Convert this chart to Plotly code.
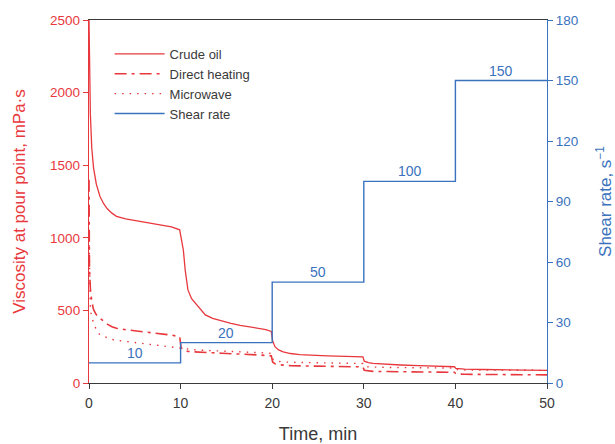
import plotly.graph_objects as go

# ---- data ----
time_min = [0, 0.05, 0.15, 0.3, 0.5, 0.8, 1.2, 1.6, 2, 2.5, 3, 4, 5, 6, 7, 8, 9, 9.9,
            10.05, 10.3, 10.5, 10.8, 11.2, 11.6, 12.2, 12.7, 13.5, 14.5, 15.5, 16.5, 17.5, 18.5, 19.3, 19.9,
            20.05, 20.3, 20.7, 21.2, 22, 23, 24, 26, 28, 29.9,
            30.05, 30.5, 31, 32, 34, 36, 38, 39.9,
            40.05, 40.5, 41, 43, 45, 47, 50]

crude_oil = [2500, 2150, 1850, 1620, 1480, 1370, 1285, 1235, 1200, 1170, 1148, 1130, 1120, 1110, 1100, 1088, 1075, 1055,
             1010, 916, 779, 641, 580, 549, 500, 469, 445, 425, 410, 397, 387, 378, 368, 355,
             290, 250, 228, 215, 203, 196, 192, 187, 183, 180,
             150, 140, 135, 130, 124, 119, 115, 112,
             100, 97, 95, 93, 91, 89, 87]

direct_heating = [1400, 800, 650, 560, 505, 470, 446, 425, 405, 388, 377, 367, 360, 352, 345, 338, 330, 319,
                  245, 228, 222, 218, 215, 213, 211, 210, 208, 205, 203, 200, 197, 193, 190, 187,
                  145, 132, 126, 123, 120, 118, 117, 115, 113, 111,
                  88, 83, 80, 79, 77, 76, 75, 74,
                  63, 61, 60, 59, 58, 57, 56]

microwave = [1000, 640, 510, 450, 411, 365, 331, 320, 312, 300, 294, 286, 278, 270, 264, 257, 249, 244,
             240, 236, 234, 232, 230, 228, 226, 225, 223, 221, 219, 216, 213, 210, 207, 203,
             165, 152, 147, 145, 143, 141, 140, 138, 136, 134,
             115, 111, 109, 108, 106, 105, 104, 103,
             93, 91, 90, 89, 88, 88, 87]

shear_time = [0, 10, 20, 30, 40, 50]
shear_rate = [10, 20, 50, 100, 150, 150]
shear_labels = ["10", "20", "50", "100", "150"]

RED = "#e8383d"
BLUE = "#3a72bd"
DARK = "#3a3a3a"
FONT = "Liberation Sans, Arial"

fig = go.Figure()
fig.add_trace(go.Scatter(x=time_min, y=crude_oil, name="Crude oil", mode="lines",
                         line=dict(color=RED, width=1.3)))
fig.add_trace(go.Scatter(x=time_min, y=direct_heating, name="Direct heating", mode="lines",
                         line=dict(color=RED, width=1.6, dash="12px,5px,3px,5px")))
fig.add_trace(go.Scatter(x=time_min, y=microwave, name="Microwave", mode="lines",
                         line=dict(color=RED, width=1.4, dash="1.5px,6px")))
fig.add_trace(go.Scatter(x=shear_time, y=shear_rate, name="Shear rate", mode="lines",
                         line=dict(color=BLUE, width=1.4, shape="hv"), yaxis="y2"))

for i, lab in enumerate(shear_labels):
    fig.add_annotation(x=(shear_time[i] + shear_time[i + 1]) / 2, y=shear_rate[i], xref="x", yref="y2",
                       text=lab, showarrow=False, yshift=10,
                       font=dict(family=FONT, size=14, color=BLUE))

fig.update_layout(
    width=615, height=444,
    margin=dict(l=89, r=68, t=20, b=61, autoexpand=False),
    paper_bgcolor="white", plot_bgcolor="white",
    font=dict(family=FONT, size=13, color=DARK),
    showlegend=True,
    legend=dict(x=0.045, y=0.948, xanchor="left", yanchor="top", bgcolor="rgba(0,0,0,0)",
                font=dict(family=FONT, size=13, color=DARK), itemwidth=50, tracegroupgap=0),
    xaxis=dict(range=[0, 50], tickvals=[0, 10, 20, 30, 40, 50], showgrid=False, zeroline=False,
               automargin=False,
               showline=True, linecolor=DARK, linewidth=1.3, mirror=True,
               ticks="outside", ticklen=5, tickcolor=DARK, ticklabelstandoff=2,
               tickfont=dict(family=FONT, size=14, color=DARK),
               title=dict(text="Time, min", font=dict(family=FONT, size=18, color=DARK), standoff=17)),
    yaxis=dict(range=[0, 2500], tickvals=[0, 500, 1000, 1500, 2000, 2500], showgrid=False, zeroline=False,
               automargin=False,
               showline=True, linecolor=RED, linewidth=1.3,
               ticks="outside", ticklen=5, tickcolor=RED,
               tickfont=dict(family=FONT, size=13.5, color=RED),
               title=dict(text="Viscosity at pour point, mPa·s", font=dict(family=FONT, size=17, color=RED),
                          standoff=20)),
    yaxis2=dict(range=[0, 180], tickvals=[0, 30, 60, 90, 120, 150, 180], overlaying="y", side="right",
                automargin=False,
                showgrid=False, zeroline=False, showline=True, linecolor=BLUE, linewidth=1.3,
                ticks="outside", ticklen=5, tickcolor=BLUE,
                tickfont=dict(family=FONT, size=13.5, color=BLUE),
                title=dict(text="Shear rate, s<sup>−1</sup>", font=dict(family=FONT, size=17, color=BLUE),
                           standoff=21)),
)

fig.write_html("out.html")
